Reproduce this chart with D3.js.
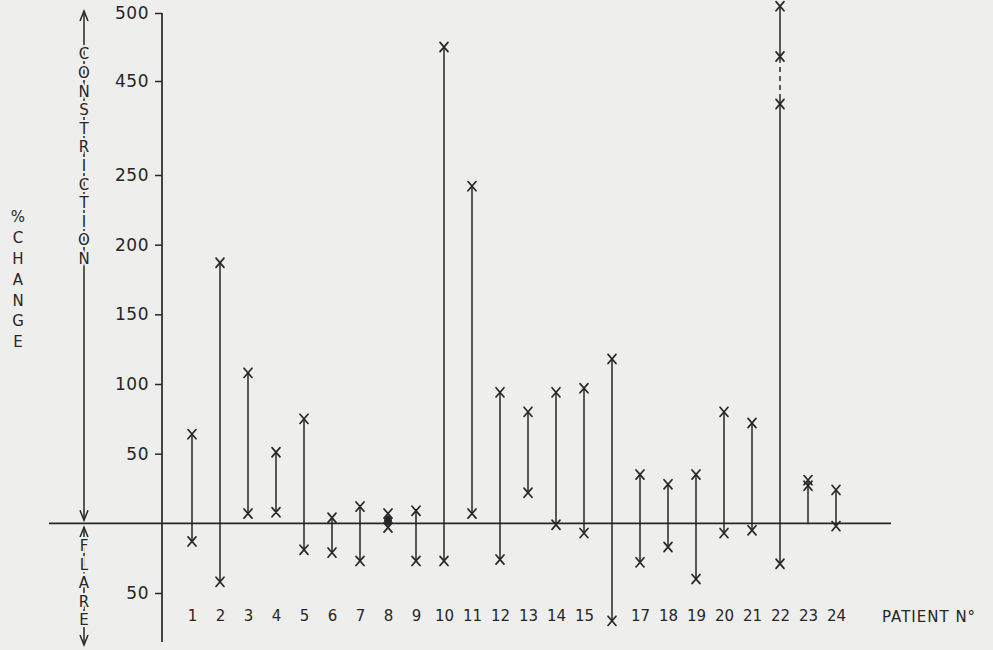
<!DOCTYPE html>
<html>
<head>
<meta charset="utf-8">
<script src="https://cdn.jsdelivr.net/npm/d3@7/dist/d3.min.js"></script>
<style>
  html, body { margin: 0; padding: 0; background: #eeeeec; }
  svg { display: block; }
  text { font-family: "DejaVu Sans", "Liberation Sans", sans-serif; fill: #262626; }
</style>
</head>
<body>
<svg id="chart" width="993" height="650"></svg>
<script>
// ---------------- DATA ----------------
const patients = d3.range(1, 25);
const patientLabels = ["1","2","3","4","5","6","7","8","9","10","11","12","13","14","15","","17","18","19","20","21","22","23","24"];
const yTickValues = [500, 450, 250, 200, 150, 100, 50, -50];
const yTickLabels = ["500", "450", "250", "200", "150", "100", "50", "50"];

// % change values read for each patient (positive = constriction, negative = flare)
const markValues = [
  [64, -13], [187, -42], [108, 7], [51, 8], [75, -19], [4, -21],
  [12, -27], [7, -3], [9, -27], [475, -27], [242, 7], [94, -26],
  [80, 22], [94, -1], [97, -7], [118, -70], [35, -28], [28, -17],
  [35, -40], [80, -7], [72, -5], [505, 468, 401, -29], [31, 27], [24, -2]
];
// vertical range line of each patient
const lineLow  = [-13, -42, 7, 8, -19, -21, -27, -3, -27, -27, 7, -26, 22, -1, -7, -70, -28, -17, -40, -7, -5, -29, 0, -2];
const lineHigh = [64, 187, 108, 51, 75, 4, 12, 7, 9, 475, 242, 94, 80, 94, 97, 118, 35, 28, 35, 80, 72, 505, 31, 24];
// dashed part of a range line: [patient, from, to]
const dashedSpans = [[22, 401, 468]];
// patient whose overlapping marks form a dot on the zero line
const dotPatients = [8];

const constrictionLetters = "CONSTRICTION".split("");
const flareLetters = "FLARE".split("");
const changeLetters = ["%", "C", "H", "A", "N", "G", "E"];

// ---------------- LAYOUT ----------------
const ink = "#262626";
const paper = "#eeeeec";
const svg = d3.select("#chart");

const x = d3.scalePoint().domain(patients).range([192, 836]);
// broken axis: 450..250 compressed
const y = d3.scaleLinear().domain([-50, 250, 450, 500]).range([593, 175, 81, 13]);

const axisX = 162;

// zero (baseline) line
svg.append("line")
  .attr("x1", 49).attr("x2", 891)
  .attr("y1", y(0)).attr("y2", y(0))
  .attr("stroke", ink).attr("stroke-width", 1.7);

// y axis
const yAxis = d3.axisLeft(y)
  .tickValues(yTickValues)
  .tickFormat((d, i) => yTickLabels[i])
  .tickSize(7).tickPadding(6);
const gy = svg.append("g").attr("transform", `translate(${axisX},0)`).call(yAxis);
gy.select(".domain").remove();
gy.selectAll(".tick line").attr("stroke", ink).attr("stroke-width", 1.5);
gy.selectAll(".tick text")
  .attr("font-size", 17).attr("letter-spacing", 0.5)
  .attr("fill", ink)
  .style("font-family", "'DejaVu Sans', sans-serif");
svg.append("line")
  .attr("x1", axisX).attr("x2", axisX)
  .attr("y1", y(500)).attr("y2", 642)
  .attr("stroke", ink).attr("stroke-width", 1.7);

// x labels (patients)
const xAxis = d3.axisBottom(x)
  .tickSize(0).tickPadding(0)
  .tickFormat((d, i) => patientLabels[i]);
const gx = svg.append("g").attr("transform", "translate(0,610)").call(xAxis);
gx.select(".domain").remove();
gx.selectAll(".tick text")
  .attr("font-size", 15).attr("fill", ink)
  .style("font-family", "'DejaVu Sans', sans-serif");

svg.append("text")
  .attr("x", 882).attr("y", 617).attr("dy", "0.36em")
  .attr("font-size", 15).attr("letter-spacing", 1)
  .text("PATIENT N°");

// range lines
const rows = patients.map((p, i) => ({ p, lo: lineLow[i], hi: lineHigh[i], marks: markValues[i] }));
svg.append("g").selectAll("line").data(rows).join("line")
  .attr("x1", d => x(d.p)).attr("x2", d => x(d.p))
  .attr("y1", d => y(d.lo)).attr("y2", d => y(d.hi))
  .attr("stroke", ink).attr("stroke-width", 1.5);

// dashed spans
const dg = svg.append("g");
dashedSpans.forEach(([p, a, b]) => {
  dg.append("line")
    .attr("x1", x(p)).attr("x2", x(p))
    .attr("y1", y(a) - 5).attr("y2", y(b) + 5)
    .attr("stroke", paper).attr("stroke-width", 4);
  dg.append("line")
    .attr("x1", x(p)).attr("x2", x(p))
    .attr("y1", y(a) - 5).attr("y2", y(b) + 5)
    .attr("stroke", ink).attr("stroke-width", 1.5)
    .attr("stroke-dasharray", "5,4");
});

// dot on baseline
svg.append("g").selectAll("ellipse").data(dotPatients).join("ellipse")
  .attr("cx", d => x(d))
  .attr("cy", d => { const r = rows[d - 1]; return (y(r.lo) + y(r.hi)) / 2; })
  .attr("rx", 4).attr("ry", 4.5)
  .attr("fill", ink);

// x marks
const pts = rows.flatMap(r => r.marks.map(v => ({ p: r.p, v })));
svg.append("g").selectAll("path").data(pts).join("path")
  .attr("transform", d => `translate(${x(d.p)},${y(d.v)})`)
  .attr("d", "M-4,-4.6L4,4.6M4,-4.6L-4,4.6")
  .attr("fill", "none")
  .attr("stroke", ink).attr("stroke-width", 1.7)
  .attr("stroke-linecap", "round");

// ---------------- SIDE LABELS ----------------
const colX = 84;
// constriction arrow line
svg.append("line")
  .attr("x1", colX).attr("x2", colX)
  .attr("y1", 12).attr("y2", y(0) - 3)
  .attr("stroke", ink).attr("stroke-width", 1.5);
// arrow heads
function arrowHead(xp, yp, dir) {
  svg.append("path")
    .attr("d", `M${xp - 4},${yp - dir * 10}L${xp},${yp}L${xp + 4},${yp - dir * 10}`)
    .attr("fill", "none").attr("stroke", ink).attr("stroke-width", 1.5);
}
arrowHead(colX, 11, -1);
arrowHead(colX, y(0) - 3, 1);

svg.append("g").selectAll("text").data(constrictionLetters).join("text")
  .attr("x", colX).attr("y", (d, i) => 54 + i * 18.6).attr("dy", "0.36em")
  .attr("text-anchor", "middle").attr("font-size", 15)
  .attr("stroke", paper).attr("stroke-width", 4).attr("paint-order", "stroke")
  .text(d => d);

// flare
svg.append("line")
  .attr("x1", colX).attr("x2", colX)
  .attr("y1", y(0) + 4).attr("y2", 645)
  .attr("stroke", ink).attr("stroke-width", 1.5);
arrowHead(colX, y(0) + 4, -1);
arrowHead(colX, 645, 1);
svg.append("g").selectAll("text").data(flareLetters).join("text")
  .attr("x", colX).attr("y", (d, i) => 546 + i * 18.5).attr("dy", "0.36em")
  .attr("text-anchor", "middle").attr("font-size", 15)
  .attr("stroke", paper).attr("stroke-width", 4).attr("paint-order", "stroke")
  .text(d => d);

// % CHANGE
svg.append("g").selectAll("text").data(changeLetters).join("text")
  .attr("x", 18).attr("y", (d, i) => 217 + i * 20.8).attr("dy", "0.36em")
  .attr("text-anchor", "middle").attr("font-size", 15)
  .text(d => d);
</script>
</body>
</html>
